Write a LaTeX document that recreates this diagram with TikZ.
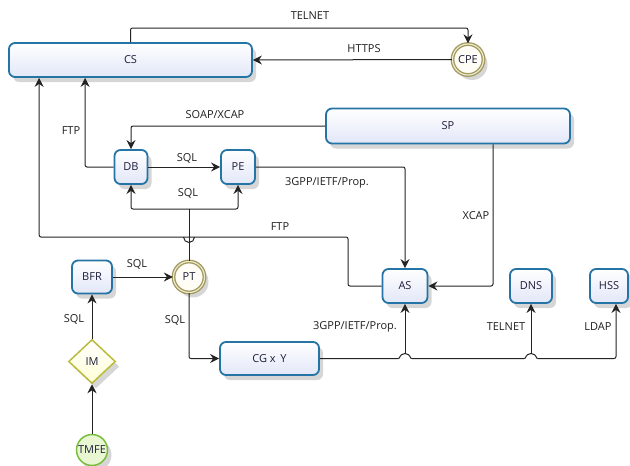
\documentclass[tikz,border=0pt]{standalone}
\usepackage{fontspec}
\setmainfont{Open Sans}
\usetikzlibrary{arrows.meta,shapes.geometric,shadows,calc}
\definecolor{boxblue}{RGB}{36,116,166}
\definecolor{boxfill}{RGB}{226,231,248}
\definecolor{nodetext}{RGB}{30,30,60}
\definecolor{labeltext}{RGB}{30,30,30}
\definecolor{linecol}{RGB}{35,35,35}
\definecolor{ringol}{RGB}{160,152,92}
\definecolor{ringgap}{RGB}{235,232,205}
\definecolor{ringfill}{RGB}{255,253,245}
\definecolor{imdraw}{RGB}{186,186,60}
\definecolor{imfill}{RGB}{255,255,214}
\definecolor{tmdraw}{RGB}{120,190,60}
\definecolor{tmfill}{RGB}{232,247,210}
\begin{document}
\begin{tikzpicture}[x=1pt,y=-1pt,
  font=\fontsize{11}{13}\selectfont,
  shad/.style={drop shadow={shadow xshift=4pt,shadow yshift=-5pt,opacity=0.16,fill=black}},
  box/.style={rectangle, rounded corners=6pt, draw=boxblue, line width=1.8pt,
    top color=white, bottom color=boxfill, text=nodetext, inner sep=0pt, shad},
  ring/.style={circle, draw=ringol, line width=1.3pt, double=ringgap, double distance=1.2pt,
    fill=ringfill, text=nodetext, inner sep=0pt, minimum size=31pt, shad},
  imstyle/.style={diamond, draw=imdraw, line width=1.5pt, top color=white, bottom color=imfill,
    text=nodetext, inner sep=0pt, minimum width=47pt, minimum height=44pt, shad},
  tmstyle/.style={circle, draw=tmdraw, line width=1.5pt, fill=tmfill, text=nodetext,
    inner sep=0pt, minimum size=31pt, shad},
  lbl/.style={text=labeltext, inner sep=1pt},
  conn/.style={draw=linecol, line width=1pt, rounded corners=2pt},
  arr/.style={-{Stealth[length=9pt,width=9pt,inset=3pt]}}
]
\useasboundingbox (0,0) rectangle (630,466);

% nodes
\node[box, minimum width=243pt, minimum height=34pt] (CS) at (130.5,60) {CS};
\node[box, minimum width=244pt, minimum height=35pt] (SP) at (448,126) {SP};
\node[box, minimum width=33pt, minimum height=34pt] (DB) at (131,167) {DB};
\node[box, minimum width=34pt, minimum height=34pt] (PE) at (238,167) {PE};
\node[box, minimum width=45pt, minimum height=34pt] (AS) at (405,286) {AS};
\node[box, minimum width=42pt, minimum height=34pt] (DNS) at (531,286) {DNS};
\node[box, minimum width=38pt, minimum height=34pt] (HSS) at (609,286) {HSS};
\node[box, minimum width=40pt, minimum height=33pt] (BFR) at (92,277) {BFR};
\node[box, minimum width=99pt, minimum height=33pt] (CG) at (269.5,358.5) {CG x\, Y};
\node[ring] (CPE) at (468,59.5) {CPE};
\node[ring] (PT) at (189,277) {PT};
\node[imstyle] (IM) at (92,361.5) {IM};
\node[tmstyle] (TMFE) at (92,450) {TMFE};

% connectors
\draw[conn,arr] (CS.north) -- (CS.north |- 0,28) -| (CPE.north);
\draw[conn,arr] (CPE.west) -- (CS.east);
\draw[conn,arr] (SP.west) -| (DB.north);
\draw[conn,arr] (DB.east) -- (PE.west);
\draw[conn,arr] (DB.west) -| ([xshift=77pt]CS.south west);
\draw[conn,arr] (AS.west) -| (348,237) -| ([xshift=31pt]CS.south west);
\draw[conn] (183.5,237) arc[start angle=180,end angle=0,radius=5.5];
\draw[conn,arr] (PE.east) -| (AS.north);
\draw[conn,arr] ([xshift=45pt]SP.south) |- (AS.east);
\coordinate (ptj) at (189,209);
\draw[conn] (PT.north) -- (ptj);
\draw[conn,arr] (ptj) -| (DB.south);
\draw[conn,arr] (ptj) -| (PE.south);
\draw[conn,arr] (BFR.east) -- (PT.west);
\draw[conn,arr] (PT.south) |- (CG.west);
\draw[conn,arr] (IM.north) -- (BFR.south);
\draw[conn,arr] (TMFE.north) -- (IM.south);
\draw[conn,arr] (CG.east) -- (400,358.5) arc[start angle=180,end angle=360,radius=5]
  -- (526,358.5) arc[start angle=180,end angle=360,radius=5]
  -| ([xshift=7pt]HSS.south);
\draw[conn,arr] (AS.south |- 0,353.5) -- (AS.south);
\draw[conn,arr] (DNS.south |- 0,353.5) -- (DNS.south);

% labels
\node[lbl] (l1) at (310,16) {TELNET};
\node[lbl] (l2) at (364,49) {HTTPS};
\node[lbl] (l3) at (215,115) {SOAP/XCAP};
\node[lbl] (l4) at (71,131) {FTP};
\node[lbl] (l5) at (187,158) {SQL};
\node[lbl] (l6) at (188,193) {SQL};
\node[lbl] (l7) at (327,183) {3GPP/IETF/Prop.};
\node[lbl] (l8) at (280,227) {FTP};
\node[lbl] (l9) at (476,216) {XCAP};
\node[lbl] (l10) at (137,264) {SQL};
\node[lbl] (l11) at (74,319) {SQL};
\node[lbl] (l12) at (175,320) {SQL};
\node[lbl] (l13) at (355,327) {3GPP/IETF/Prop.};
\node[lbl] (l14) at (506,327) {TELNET};
\node[lbl] (l15) at (598,327) {LDAP};
\end{tikzpicture}
\end{document}
